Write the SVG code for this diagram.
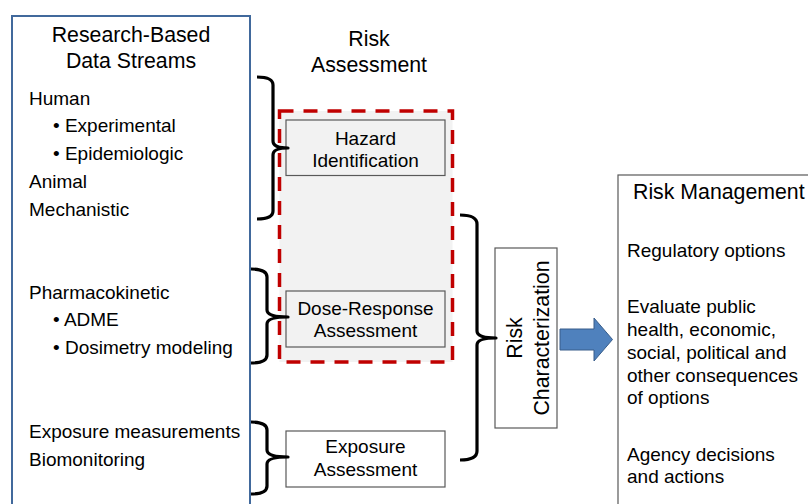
<svg xmlns="http://www.w3.org/2000/svg" width="808" height="504" viewBox="0 0 808 504">
<style>
text{font-family:"Liberation Sans",Arial,sans-serif;fill:#000;}
.title{font-size:21.3px;}
.body{font-size:19px;}
.rot{font-size:21.3px;}
.c{text-anchor:middle;}
.box{fill:#fff;stroke:#595959;stroke-width:1.2;}
.gbox{fill:#f2f2f2;stroke:#595959;stroke-width:1.2;}
.brace{fill:none;stroke:#000;stroke-width:3.2;stroke-linejoin:round;}
</style>
<rect width="808" height="504" fill="#fff"/>

<g id="data-streams">
<rect x="12" y="16" width="238" height="520" fill="#fff" stroke="#41699c" stroke-width="2"/>
<text class="title c" x="131" y="42">Research-Based</text>
<text class="title c" x="131" y="68">Data Streams</text>
<text class="body" x="29" y="105">Human</text>
<text class="body" x="53" y="132">• Experimental</text>
<text class="body" x="53" y="160">• Epidemiologic</text>
<text class="body" x="29" y="188">Animal</text>
<text class="body" x="29" y="216">Mechanistic</text>
<text class="body" x="29" y="299">Pharmacokinetic</text>
<text class="body" x="53" y="326">• ADME</text>
<text class="body" x="53" y="354">• Dosimetry modeling</text>
<text class="body" x="29" y="438">Exposure measurements</text>
<text class="body" x="29" y="466">Biomonitoring</text>
</g>

<g id="risk-assessment">
<text class="title c" x="369" y="46">Risk</text>
<text class="title c" x="369" y="72">Assessment</text>
<rect x="279.5" y="111" width="173" height="251" fill="#f2f2f2" stroke="#c00000" stroke-width="3.5" stroke-dasharray="14 10"/>
</g>

<g id="hazard-identification">
<rect class="gbox" x="286" y="120" width="159" height="55.5"/>
<text class="body c" x="365.5" y="145">Hazard</text>
<text class="body c" x="365.5" y="167">Identification</text>
</g>

<g id="dose-response">
<rect class="gbox" x="286" y="291" width="159" height="56"/>
<text class="body c" x="365.5" y="315">Dose-Response</text>
<text class="body c" x="365.5" y="337">Assessment</text>
</g>

<g id="exposure-assessment">
<rect class="box" x="286" y="431" width="159" height="56"/>
<text class="body c" x="365.5" y="453">Exposure</text>
<text class="body c" x="365.5" y="476">Assessment</text>
</g>

<g id="risk-characterization">
<rect class="box" x="495" y="248" width="62" height="180"/>
<text class="rot c" transform="translate(521.5,338) rotate(-90)">Risk</text>
<text class="rot c" transform="translate(548.5,338) rotate(-90)">Characterization</text>
</g>

<g id="risk-management">
<rect x="618" y="175" width="220" height="360" fill="#fff" stroke="#595959" stroke-width="1.2"/>
<text class="title" x="633" y="199">Risk Management</text>
<text class="body" x="627" y="257">Regulatory options</text>
<text class="body" x="627" y="313">Evaluate public</text>
<text class="body" x="627" y="336">health, economic,</text>
<text class="body" x="627" y="359">social, political and</text>
<text class="body" x="627" y="382">other consequences</text>
<text class="body" x="627" y="404">of options</text>
<text class="body" x="627" y="461">Agency decisions</text>
<text class="body" x="627" y="483">and actions</text>
</g>

<g id="connectors">
<path class="brace" d="M257,77 Q273,77 273,85 V141 Q273,148 288,148 Q273,148 273,155 V211 Q273,219 257,219"/>
<path class="brace" d="M251,269 Q267,269 267,277 V310 Q267,317 288,317 Q267,317 267,324 V355 Q267,363 251,363"/>
<path class="brace" d="M251,422 Q267,422 267,430 V450 Q267,457 288,457 Q267,457 267,464 V486 Q267,494 251,494"/>
<path class="brace" d="M460,215 Q477,215 477,224 V331 Q477,338 496,338 Q477,338 477,345 V451 Q477,460 460,460"/>
<polygon points="560,329 594,329 594,318 612.5,339.5 594,361 594,350 560,350" fill="#4f81bd" stroke="#385d8a" stroke-width="1"/>
</g>
</svg>
